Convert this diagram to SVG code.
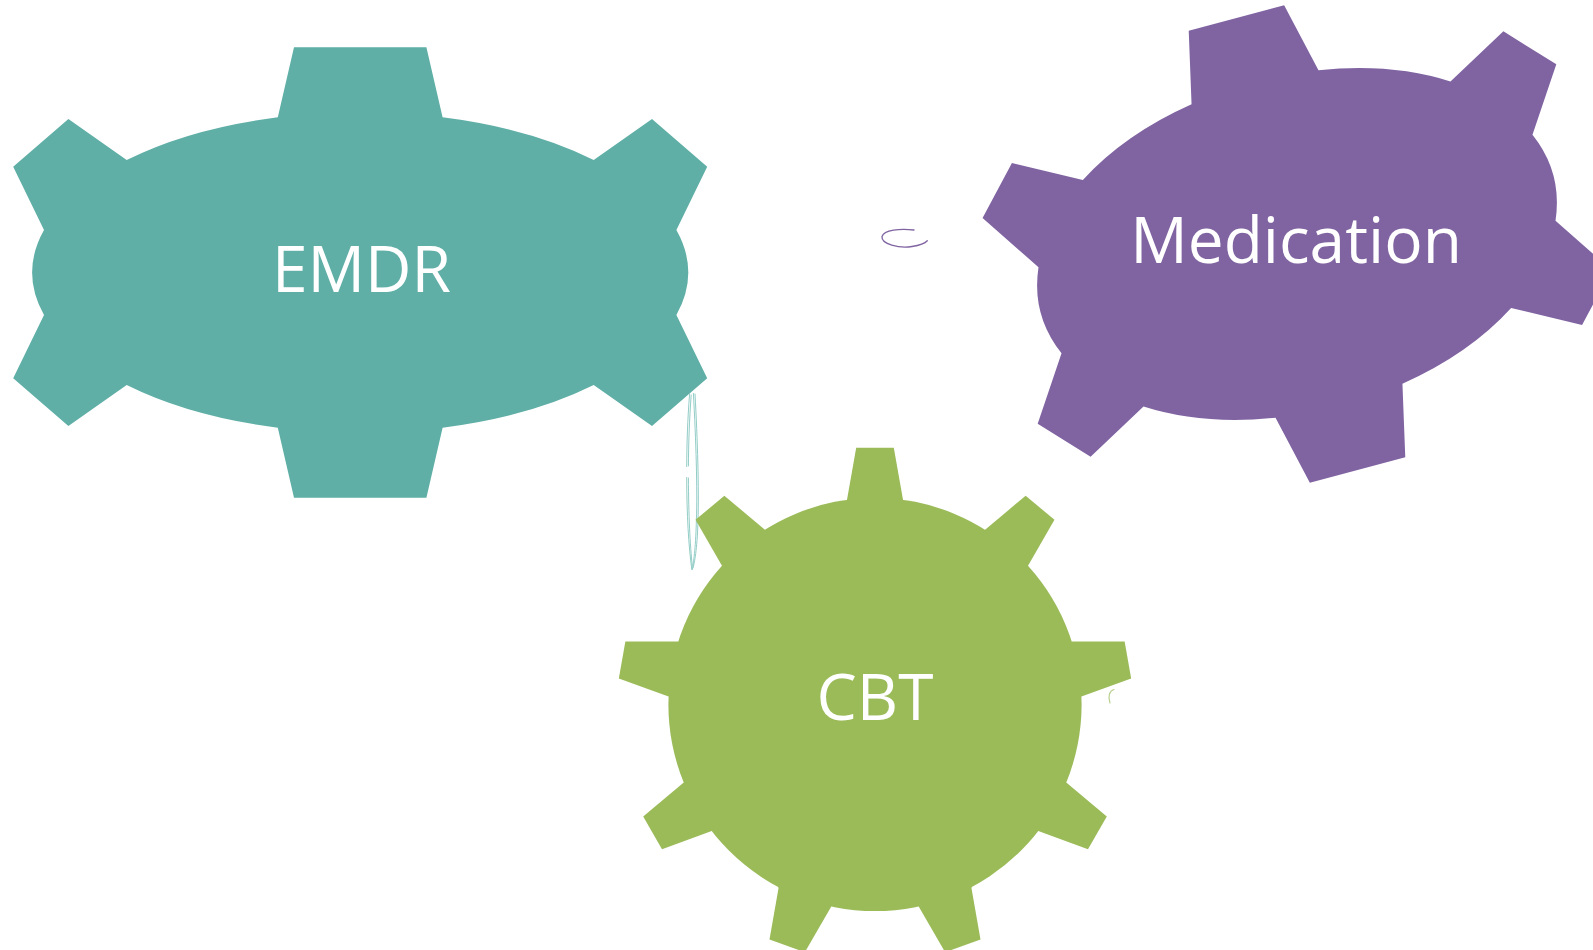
<svg xmlns="http://www.w3.org/2000/svg" width="1593" height="950" viewBox="0 0 1593 950">
  <style>
    .label { font-family: "Open Sans", "Liberation Sans", sans-serif; font-size: 64px; fill: #ffffff; text-anchor: middle; }
    .teal { fill: #5fafa7; }
    .purple { fill: #8064a2; }
    .green { fill: #9bbb59; }
    .trace { fill: none; stroke-linecap: round; }
  </style>
  <defs>
    <!-- one tooth of the round gear, pointing up from its centre -->
    <polygon id="cogTooth" points="-28,-204.7 -18.8,-256.8 18.8,-256.8 28,-204.7 0,-150"/>
  </defs>

  <rect width="1593" height="950" fill="#ffffff"/>

  <!-- thin traces between the gears -->
  <g id="connectors">
    <path class="trace" stroke="#8064a2" stroke-width="1.3" d="M 914 230 C 900 228.2, 884 230, 882 236.5 C 881 244, 899 248.5, 912 246.5 C 920 245.3, 925 243.3, 927.3 240.7"/>
    <g stroke="#86c6bf" stroke-width="0.9" class="trace">
      <path d="M 689.6 394 C 687.5 420, 686.8 445, 686.7 466.5"/>
      <path d="M 686.7 477.5 C 686.8 515, 688.5 545, 691.8 569.5"/>
      <path d="M 691.2 395 C 689.3 420, 688.5 445, 688.4 466"/>
      <path d="M 688.4 478 C 688.6 515, 690 545, 692.3 566"/>
      <path d="M 693.4 393.5 C 696 440, 697.5 490, 696.4 520 C 695.8 545, 694 560, 692.3 569.5"/>
      <path d="M 695 394 C 697.6 440, 699 490, 698 520 C 697.4 545, 695.2 560, 693 568"/>
    </g>
    <path class="trace" stroke="#b9d08f" stroke-width="1.2" d="M 1114 689.5 C 1109.5 690.8, 1107.6 696.5, 1110 703"/>
  </g>

  <!-- EMDR: six-tooth oval gear -->
  <g id="node-emdr">
    <path class="teal" transform="translate(360.2,272.5)" d="M -66.2 -225.2 L 66.2 -225.2 L 82.4 -155.2 A 327 160.4 0 0 1 233.5 -112.5 L 291.8 -153.5 L 347 -105.8 L 316.2 -42.5 A 327 160.4 0 0 1 316.2 42.5 L 347 105.8 L 291.8 153.5 L 233.5 112.5 A 327 160.4 0 0 1 82.4 155.2 L 66.2 225.2 L -66.2 225.2 L -82.4 155.2 A 327 160.4 0 0 1 -233.5 112.5 L -291.8 153.5 L -347 105.8 L -316.2 42.5 A 327 160.4 0 0 1 -316.2 -42.5 L -347 -105.8 L -291.8 -153.5 L -233.5 -112.5 A 327 160.4 0 0 1 -82.4 -155.2 Z"/>
    <text class="label" x="361.5" y="291.5">EMDR</text>
  </g>

  <!-- Medication: six-tooth oval gear, tilted -->
  <g id="node-medication">
    <path class="purple" transform="translate(1297,244) rotate(-15)" d="M -49.4 -234 L 49.4 -234 L 65.7 -162.2 A 265.4 167.4 0 0 1 190.3 -117.2 L 254.4 -152 L 297 -106.5 L 255.7 -44.5 A 265.4 167.4 0 0 1 255.7 44.5 L 297 106.5 L 254.4 152 L 190.3 117.2 A 265.4 167.4 0 0 1 65.7 162.2 L 49.4 234 L -49.4 234 L -65.7 162.2 A 265.4 167.4 0 0 1 -190.3 117.2 L -254.4 152 L -297 106.5 L -255.7 44.5 A 265.4 167.4 0 0 1 -255.7 -44.5 L -297 -106.5 L -254.4 -152 L -190.3 -117.2 A 265.4 167.4 0 0 1 -65.7 -162.2 Z"/>
    <text class="label" x="1296" y="262.5">Medication</text>
  </g>

  <!-- CBT: nine-tooth round gear -->
  <g id="node-cbt">
    <g class="green" transform="translate(875,704.5)">
      <circle r="206.6"/>
      <use href="#cogTooth"/>
      <use href="#cogTooth" transform="rotate(40)"/>
      <use href="#cogTooth" transform="rotate(80)"/>
      <use href="#cogTooth" transform="rotate(120)"/>
      <use href="#cogTooth" transform="rotate(160)"/>
      <use href="#cogTooth" transform="rotate(200)"/>
      <use href="#cogTooth" transform="rotate(240)"/>
      <use href="#cogTooth" transform="rotate(280)"/>
      <use href="#cogTooth" transform="rotate(320)"/>
    </g>
    <text class="label" x="875" y="719.5">CBT</text>
  </g>
</svg>
